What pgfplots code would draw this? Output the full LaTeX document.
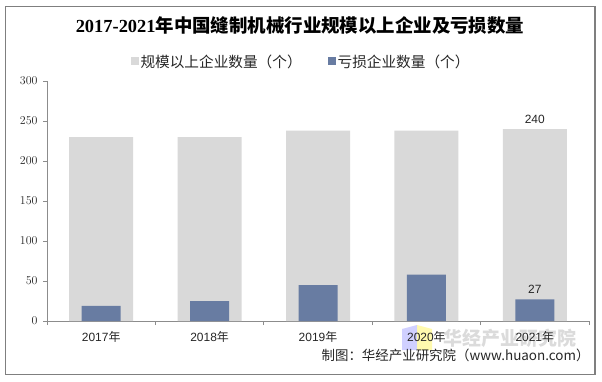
\documentclass[border=0pt]{standalone}
\usepackage{fontspec}
\setmainfont{Liberation Sans}
\newfontfamily\cjk{Noto Sans CJK SC}
\newfontfamily\serif{Liberation Serif}
\usepackage{pgfplots}
\pgfplotsset{compat=1.18}
\definecolor{barg}{HTML}{D9D9D9}
\definecolor{barb}{HTML}{687CA2}
\definecolor{axg}{HTML}{8C8C8C}
\definecolor{txt}{HTML}{262626}
\definecolor{frameg}{HTML}{7F7F7F}
\begin{document}
\begin{tikzpicture}[x=1bp,y=1bp]
\useasboundingbox (0,0) rectangle (602,381);
\fill[white] (0,0) rectangle (602,381);
\draw[frameg, line width=1.2bp] (5.5,6.3) rectangle (595,374.5);
% title
\node[anchor=center, text=black] at (300,356) {\fontsize{18.5}{21}\selectfont{\serif\bfseries 2017-2021}{\cjk\bfseries 年中国缝制机械行业规模以上企业及亏损数量}};
% watermark
\fill[blue!30, opacity=0.6] (402,31) -- (417,31) -- (417,56) -- (402,52) -- cycle;
\fill[yellow!45, opacity=0.7] (417,31) -- (432,31) -- (432,52) -- (417,56) -- cycle;
\node[anchor=west, text=gray!35, opacity=0.8] at (440,43) {\fontsize{19}{20}\selectfont\cjk\bfseries 华经产业研究院};
\begin{axis}[
  at={(47bp,60bp)}, anchor=south west,
  width=542bp, height=240bp, scale only axis,
  xmin=-0.5, xmax=4.5, ymin=0, ymax=300,
  ytick={0,50,...,300},
  xtick={0,...,4},
  xticklabels={2017{\cjk 年},2018{\cjk 年},2019{\cjk 年},2020{\cjk 年},2021{\cjk 年}},
  major x tick style={draw=none},
  minor xtick={-0.5,0.5,...,4.5},
  axis lines*=left,
  axis line style={draw=axg, line width=0.8bp},
  tick style={draw=axg, line width=0.8bp},
  tick align=outside, major tick length=4bp, minor tick length=4bp,
  ticklabel style={font=\fontsize{12}{14}\selectfont, text=txt},
  yticklabel style={xshift=-2bp},
  xticklabel style={yshift=-3bp},
  legend columns=2,
  legend style={draw=none, fill=none, at={(0.5,1)}, anchor=center, yshift=19bp, xshift=-17bp,
    font=\fontsize{14.7}{16}\selectfont\cjk, text=txt,
    /tikz/every even column/.append style={column sep=24bp}},
  legend image code/.code={\fill[#1] (0bp,-3.5bp) rectangle (8bp,4.5bp);},
  nodes near coords style={font=\fontsize{12}{14}\selectfont, text=txt, yshift=2bp},
]
\addplot[ybar, bar width=64bp, bar shift=0pt, fill=barg, draw=none,
  point meta=explicit symbolic, nodes near coords]
  coordinates {(0,230) [] (1,230) [] (2,238) [] (3,238) [] (4,240) [240]};
\addlegendentry{规模以上企业数量（个）}
\addplot[ybar, bar width=39bp, bar shift=0pt, fill=barb, draw=none,
  point meta=explicit symbolic, nodes near coords]
  coordinates {(0,19) [] (1,25) [] (2,45) [] (3,58) [] (4,27) [27]};
\addlegendentry{亏损企业数量（个）}
\end{axis}
\node[anchor=east, text=txt] at (593,26) {\fontsize{13.5}{15}\selectfont\cjk 制图：华经产业研究院（www.huaon.com）};
\end{tikzpicture}
\end{document}
